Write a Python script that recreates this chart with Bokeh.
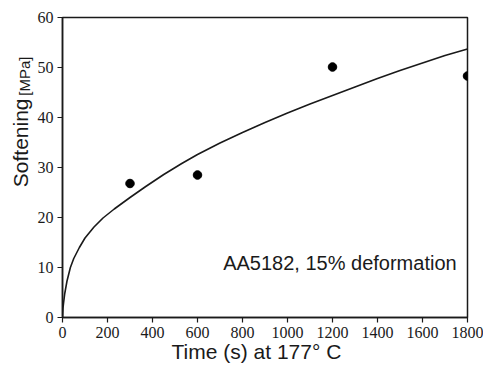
import math
from bokeh.plotting import figure
from bokeh.layouts import row
from bokeh.models import Label, Range1d, FixedTicker, Title
from bokeh.embed import file_html
from bokeh.resources import INLINE

# Measured data points (time in s at 177 C, softening in MPa)
time_points = [300, 600, 1200, 1800]
softening_points = [26.8, 28.5, 50.1, 48.3]

# Fitted curve
fit_time = [0, 2, 5, 10, 20, 35, 50, 75, 100, 140, 180, 230, 300, 370, 450,
            530, 600, 700, 800, 900, 1000, 1100, 1200, 1300, 1400, 1500, 1600,
            1700, 1800]
fit_softening = [0, 1.8, 3.0, 4.8, 7.3, 10.0, 11.8, 14.0, 15.9, 18.1, 19.9,
                 21.7, 24.0, 26.2, 28.6, 30.8, 32.6, 34.9, 37.0, 39.0, 40.9,
                 42.7, 44.4, 46.1, 47.8, 49.4, 50.9, 52.4, 53.7]

x_ticks = [0, 200, 400, 600, 800, 1000, 1200, 1400, 1600, 1800]
y_ticks = [0, 10, 20, 30, 40, 50, 60]

x_label = "Time (s) at 177° C"
y_label_main = "Softening"
y_label_unit = "[MPa]"
note = "AA5182, 15% deformation"

INK = "#1a1a1a"
SANS = "Liberation Sans"
SERIF = "Liberation Serif"

SIDE_W = 34

# ---- main chart ----
p = figure(width=483 - SIDE_W, height=371, output_backend="svg",
           toolbar_location=None,
           x_range=Range1d(0, 1800), y_range=Range1d(0, 60),
           min_border_left=62 - SIDE_W, min_border_right=16,
           min_border_top=17, min_border_bottom=54)

p.xgrid.visible = False
p.ygrid.visible = False
p.outline_line_color = INK
p.outline_line_width = 1.5
p.background_fill_color = "white"
p.border_fill_color = "white"

for ax, ticks in ((p.xaxis, x_ticks), (p.yaxis, y_ticks)):
    ax.ticker = FixedTicker(ticks=ticks)
    ax.axis_line_color = INK
    ax.axis_line_width = 1.5
    ax.major_tick_line_color = INK
    ax.major_tick_line_width = 1.2
    ax.major_tick_out = 5
    ax.major_tick_in = 0
    ax.minor_tick_line_color = None
    ax.major_label_text_font = SERIF
    ax.major_label_text_font_size = "16px"
    ax.major_label_text_color = INK
    ax.major_label_standoff = 4

p.line(fit_time, fit_softening, line_color=INK, line_width=1.6)
p.scatter(time_points, softening_points, size=8.5, fill_color="black",
          line_color="black")

p.add_layout(Label(x=714, y=11.0, text=note,
                   text_font=SANS, text_font_size="20px",
                   text_color=INK, text_align="left",
                   text_baseline="alphabetic"))

p.add_layout(Title(text=x_label, align="left", offset=109, standoff=-6,
                   vertical_align="bottom",
                   text_font=SANS, text_font_size="21px",
                   text_font_style="normal", text_color=INK), "below")

# ---- narrow strip holding the y-axis title ----
side = figure(width=SIDE_W, height=371, output_backend="svg",
              toolbar_location=None, x_range=Range1d(0, SIDE_W),
              y_range=Range1d(0, 371), x_axis_type=None, y_axis_type=None,
              min_border=0, min_border_left=0, min_border_right=0,
              min_border_top=0, min_border_bottom=0)
side.outline_line_color = None
side.xgrid.visible = False
side.ygrid.visible = False
side.background_fill_color = "white"
side.border_fill_color = "white"

side.add_layout(Label(x=19.5, y=216, text=y_label_main, angle=math.pi / 2,
                      text_font=SANS, text_font_size="21px",
                      text_color=INK, text_align="center",
                      text_baseline="middle"))
side.add_layout(Label(x=23.5, y=298.5, text=y_label_unit, angle=math.pi / 2,
                      text_font=SANS, text_font_size="15px",
                      text_color=INK, text_align="center",
                      text_baseline="middle"))

layout = row(side, p)
open("out.html", "w").write(file_html(layout, INLINE))
